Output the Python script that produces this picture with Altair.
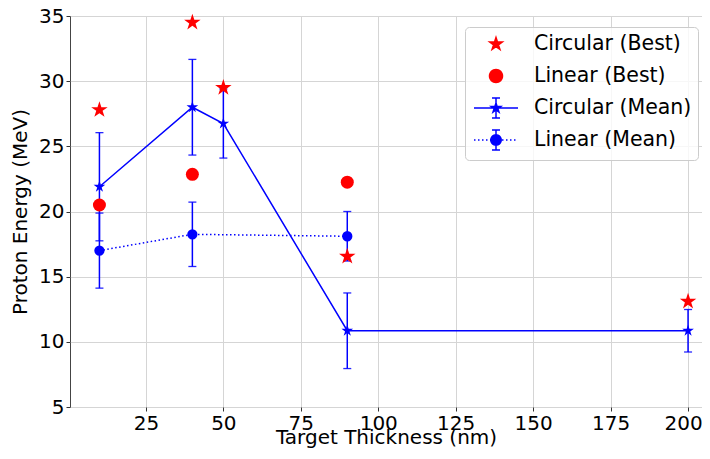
import math
import altair as alt
import pandas as pd

# ---------------- data ----------------
x_circ = [10, 40, 50, 90, 200]
circ_best = [27.8, 34.5, 29.5, 16.55, 13.1]
circ_mean = [21.9, 28.0, 26.75, 10.85, 10.85]
circ_err = [4.15, 3.67, 2.65, 2.9, 1.63]

x_lin = [10, 40, 90]
lin_best = [20.5, 22.85, 22.25]
lin_mean = [17.0, 18.25, 18.1]
lin_err = [2.88, 2.47, 1.9]

names = ["Circular (Best)", "Linear (Best)", "Circular (Mean)", "Linear (Mean)"]

BLUE = "#0000ff"
RED = "#ff0000"
FONT = "DejaVu Sans"


# ---------------- symbol paths ----------------
def star_path(R, ratio=0.382):
    pts = []
    for k in range(10):
        a = math.radians(-90 + 36 * k)
        r = R if k % 2 == 0 else R * ratio
        pts.append(f"{r * math.cos(a):.3f},{r * math.sin(a):.3f}")
    return "M" + "L".join(pts) + "Z"


def circle_path(r, n=32):
    pts = [f"{r * math.cos(2 * math.pi * k / n):.3f},{r * math.sin(2 * math.pi * k / n):.3f}" for k in range(n)]
    return "M" + "L".join(pts) + "Z"


def ebar_path(h=1.0, c=0.4):
    return f"M0,{-h}L0,{h}M{-c},{-h}L{c},{-h}M{-c},{h}L{c},{h}"


def dotted_path(half=2.2, on=0.15, step=0.4):
    segs = []
    x = -half
    while x < half:
        segs.append(f"M{x:.2f},0L{min(x + on, half):.2f},0")
        x += step
    return "".join(segs)


# identical (invisible, zero-length) vertical extent for every legend row
EXT = "M0,-1.1L0,-1.1M0,1.1L0,1.1"
legend_shapes = [
    EXT + star_path(0.66),
    EXT + circle_path(0.65),
    EXT + "M-2.2,0L2.2,0" + ebar_path() + star_path(0.5),
    EXT + dotted_path() + ebar_path() + circle_path(0.52),
]

# ---------------- tables ----------------
circ_best_df = pd.DataFrame({"x": x_circ, "y": circ_best})
lin_best_df = pd.DataFrame({"x": x_lin, "y": lin_best})
circ_mean_df = pd.DataFrame({
    "x": x_circ, "y": circ_mean,
    "lo": [m - e for m, e in zip(circ_mean, circ_err)],
    "hi": [m + e for m, e in zip(circ_mean, circ_err)],
})
lin_mean_df = pd.DataFrame({
    "x": x_lin, "y": lin_mean,
    "lo": [m - e for m, e in zip(lin_mean, lin_err)],
    "hi": [m + e for m, e in zip(lin_mean, lin_err)],
})
legend_df = pd.DataFrame({"series": names, "x": [x_circ[0]] * 4, "y": [circ_mean[0]] * 4})

xscale = alt.Scale(domain=[0.5, 204.5], nice=False, zero=False)
yscale = alt.Scale(domain=[5, 35], nice=False, zero=False)

axis_common = dict(
    labelFontSize=20, titleFontSize=20, titleFontWeight="normal",
    labelFont=FONT, titleFont=FONT, labelColor="black", titleColor="black",
    tickSize=4, tickColor="#333", domain=False, grid=True,
    gridColor="#d5d5d5", gridWidth=1,
)

X = alt.X("x:Q", scale=xscale, axis=alt.Axis(
    values=[25, 50, 75, 100, 125, 150, 175, 200], title="Target Thickness (nm)",
    labelPadding=2, titlePadding=-6,
    labelOffset={"condition": {"test": "datum.value === 200", "value": -5}, "value": 0},
    **axis_common))
Y = alt.Y("y:Q", scale=yscale, axis=alt.Axis(
    values=[5, 10, 15, 20, 25, 30, 35], title="Proton Energy (MeV)",
    labelPadding=2, titlePadding=8, **axis_common))


def errbars(df):
    base = alt.Chart(df)
    rule = base.mark_rule(color=BLUE, strokeWidth=1.5).encode(
        x=alt.X("x:Q", scale=xscale), y=alt.Y("lo:Q", scale=yscale), y2="hi:Q")
    cap_lo = base.mark_tick(color=BLUE, orient="horizontal", size=8, thickness=1.3, opacity=0.85).encode(
        x=alt.X("x:Q", scale=xscale), y=alt.Y("lo:Q", scale=yscale))
    cap_hi = base.mark_tick(color=BLUE, orient="horizontal", size=8, thickness=1.3, opacity=0.85).encode(
        x=alt.X("x:Q", scale=xscale), y=alt.Y("hi:Q", scale=yscale))
    return rule + cap_lo + cap_hi


circ_line = alt.Chart(circ_mean_df).mark_line(color=BLUE, strokeWidth=1.5).encode(x=X, y=Y)
lin_line = alt.Chart(lin_mean_df).mark_line(color=BLUE, strokeWidth=1.5, strokeDash=[1.5, 2.5]).encode(x=X, y=Y)

circ_mean_pts = alt.Chart(circ_mean_df).mark_point(
    filled=True, color=BLUE, opacity=1, shape=star_path(1.0), size=150).encode(x=X, y=Y)
lin_mean_pts = alt.Chart(lin_mean_df).mark_point(
    filled=True, color=BLUE, opacity=1, shape="circle", size=106).encode(x=X, y=Y)

circ_best_pts = alt.Chart(circ_best_df).mark_point(
    filled=True, color=RED, opacity=1, shape=star_path(1.0), size=300).encode(x=X, y=Y)
lin_best_pts = alt.Chart(lin_best_df).mark_point(
    filled=True, color=RED, opacity=1, shape="circle", size=169).encode(x=X, y=Y)

leg_cols = [RED, RED, BLUE, BLUE]
legend_layer = alt.Chart(legend_df).transform_filter("false").mark_point(filled=True, opacity=1).encode(
    x=alt.X("x:Q", scale=xscale),
    y=alt.Y("y:Q", scale=yscale),
    fill=alt.Fill("series:N", scale=alt.Scale(domain=names, range=leg_cols), legend=alt.Legend(title=None)),
    stroke=alt.Stroke("series:N", scale=alt.Scale(domain=names, range=leg_cols), legend=alt.Legend(title=None)),
    shape=alt.Shape("series:N", scale=alt.Scale(domain=names, range=legend_shapes), legend=alt.Legend(title=None)),
)

chart = alt.layer(
    circ_line, lin_line,
    errbars(circ_mean_df), errbars(lin_mean_df),
    circ_mean_pts, lin_mean_pts,
    circ_best_pts, lin_best_pts,
    legend_layer,
).properties(
    width=632, height=391,
    autosize=alt.AutoSizeParams(type="none"),
    padding={"left": 62, "top": 8, "right": 0, "bottom": 50},
).configure_view(
    stroke="#444", strokeWidth=1,
).configure_legend(
    orient="none", legendX=395, legendY=11,
    labelFont=FONT, labelFontSize=20.5, labelColor="black", labelLimit=400,
    symbolSize=400, symbolStrokeWidth=1.5, symbolOffset=14, labelOffset=27,
    symbolOpacity=1,
    padding=6, rowPadding=4,
    fillColor="rgba(255,255,255,0.8)", strokeColor="#cccccc", cornerRadius=4,
)

chart.save("out.html", embed_options={"renderer": "svg", "actions": False})
